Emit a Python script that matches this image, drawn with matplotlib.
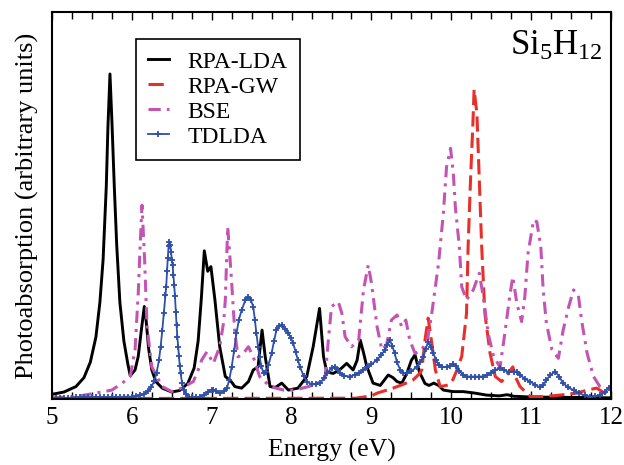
import matplotlib
matplotlib.use("Agg")
import matplotlib.pyplot as plt

plt.rcParams['font.family'] = ['Liberation Serif', 'DejaVu Serif']
plt.rcParams['mathtext.fontset'] = 'custom'
plt.rcParams['mathtext.rm'] = 'Liberation Serif'
plt.rcParams['mathtext.it'] = 'Liberation Serif:italic'

# RPA-LDA (black)
e_lda = [5.00, 5.15, 5.30, 5.40, 5.48, 5.55, 5.60, 5.64, 5.68, 5.70, 5.726, 5.75, 5.78, 5.81,
         5.85, 5.90, 5.95, 5.98, 6.04, 6.08, 6.12, 6.156, 6.18, 6.21, 6.25, 6.30, 6.38, 6.50,
         6.60, 6.70, 6.78, 6.83, 6.87, 6.907, 6.95, 6.99, 7.04, 7.10, 7.17, 7.23, 7.29, 7.375,
         7.46, 7.52, 7.58, 7.63, 7.67, 7.73, 7.80, 7.876, 7.96, 8.08, 8.19, 8.27, 8.35, 8.40,
         8.44, 8.52, 8.60, 8.69, 8.77, 8.82, 8.86, 8.90, 8.94, 9.02, 9.11, 9.21, 9.27, 9.32,
         9.38, 9.44, 9.50, 9.545, 9.60, 9.67, 9.72, 9.78, 9.84, 9.90, 10.02, 10.15, 10.30,
         10.44, 10.60, 10.70, 10.78, 11.00, 11.50, 12.00]
y_lda = [1.2, 1.8, 3.2, 5.5, 9.5, 16, 25, 36, 55, 70, 84, 72, 55, 40,
         25, 15, 9.0, 6.0, 7.5, 11, 18, 23.9, 20, 13, 7.5, 4.5, 2.8, 1.8,
         2.2, 4, 8, 15, 26, 38.3, 33, 34.2, 25.6, 13.5, 5.8, 4.9, 3.2, 2.8,
         4.5, 7.5, 8.3, 17.8, 10.9, 3.2, 3.0, 4.1, 2.3, 2.8, 5.8, 13.5, 23.4, 10.9,
         7.0, 6.6, 7.5, 9.2, 7.5, 10, 15.2, 12, 8.5, 4.1, 3.5, 6.2, 5.5, 4.5,
         4.1, 6.5, 10, 11.4, 7.0, 4.0, 3.5, 4.1, 3.5, 2.3, 1.9, 1.9, 1.5,
         1.0, 0.8, 1.1, 0.7, 0.5, 0.4, 0.3]

# RPA-GW (red dashed)
e_gw = [5.00, 8.80, 9.00, 9.07, 9.27, 9.40, 9.52, 9.60, 9.63, 9.67, 9.71, 9.755, 9.80, 9.86,
        9.96, 10.02, 10.07, 10.13, 10.19, 10.21, 10.24, 10.27, 10.285, 10.32, 10.35, 10.38,
        10.42, 10.485, 10.55, 10.63, 10.71, 10.77, 10.80, 10.86, 10.99, 11.15, 11.36, 11.57,
        11.70, 11.82, 11.92, 12.00]
y_gw = [0.1, 0.2, 0.8, 1.5, 2.8, 3.8, 4.9, 6.5, 7.5, 15.2, 20.9, 14.4, 7.5, 3.2,
        3.6, 5.0, 7.5, 11, 22.1, 39.4, 56.6, 71.2, 80.0, 73.8, 56.6, 39.4,
        22.1, 11.8, 5.8, 4.5, 6.6, 8.3, 5.8, 3.2, 0.6, 0.6, 1.0, 1.5,
        2.3, 2.8, 1.5, 1.0]

# BSE (magenta dash-dot)
e_bse = [5.00, 5.30, 5.54, 5.75, 5.88, 5.98, 6.04, 6.08, 6.105, 6.127, 6.16, 6.19, 6.25, 6.38,
         6.50, 6.62, 6.77, 6.83, 6.875, 6.94, 7.02, 7.10, 7.15, 7.17, 7.20, 7.23, 7.25, 7.29,
         7.33, 7.40, 7.46, 7.52, 7.60, 7.73, 7.90, 8.04, 8.21, 8.38, 8.42, 8.46, 8.50, 8.585,
         8.63, 8.67, 8.75, 8.84, 8.90, 8.96, 9.00, 9.07, 9.13, 9.19, 9.25, 9.32, 9.38, 9.43,
         9.48, 9.545, 9.62, 9.70, 9.755, 9.84, 9.90, 9.94, 9.99, 10.025, 10.05, 10.10, 10.13,
         10.19, 10.275, 10.35, 10.40, 10.46, 10.53, 10.61, 10.67, 10.73, 10.77, 10.82, 10.88,
         10.92, 10.96, 11.03, 11.07, 11.12, 11.15, 11.19, 11.26, 11.34, 11.40, 11.47, 11.53,
         11.59, 11.63, 11.70, 11.78, 11.86, 11.95, 12.00]
y_bse = [0.3, 0.6, 1.5, 2.3, 4.1, 5.8, 12.7, 27.3, 40.2, 50.1, 35.9, 18.7, 8.3, 3.2,
         1.9, 2.8, 4.5, 7.5, 10.1, 12.2, 9.2, 13.5, 20, 25.6, 44.5, 36, 29.9, 17.0,
         10.9, 11.9, 13.5, 10.9, 5.8, 3.2, 2.3, 2.3, 3.2, 4.5, 5.5, 15.2, 23.9, 25.1,
         22.1, 16.1, 13.5, 15.2, 28.2, 34.6, 29.9, 18.7, 12.7, 14, 20.4, 21.7, 18.7, 20.4,
         15.2, 11.8, 12.5, 15, 22.1, 35.1, 48.0, 60.0, 64.8, 58.3, 49.7, 39.4, 29.0,
         25.6, 28.2, 32.5, 26.4, 17.0, 10.9, 8.3, 17.0, 26.4, 31.6, 24.7, 20.0,
         26.4, 37.6, 46.3, 45.8, 39.4, 28.2, 19.6, 12.7, 10.5, 17.8, 23.9, 28.2,
         26.9, 20.4, 11.8, 5.8, 3.2, 1.5, 1.0]

# TDLDA (blue with markers)
e_td = [5.00, 5.05, 5.10, 5.15, 5.20, 5.25, 5.30, 5.35, 5.40, 5.45, 5.50, 5.55, 5.60, 5.65,
        5.70, 5.75, 5.80, 5.85, 5.90, 5.95, 6.00, 6.05, 6.10, 6.15, 6.20, 6.24, 6.28, 6.31,
        6.34, 6.36, 6.38, 6.40, 6.42, 6.43, 6.44, 6.45, 6.46, 6.47, 6.48, 6.49, 6.50, 6.51,
        6.52, 6.53, 6.54, 6.55, 6.56, 6.57, 6.58, 6.59, 6.60, 6.61, 6.63, 6.65, 6.68, 6.71,
        6.75, 6.80, 6.85, 6.90, 6.95, 7.00, 7.02, 7.05, 7.10, 7.15, 7.19, 7.22, 7.25, 7.28,
        7.31, 7.34, 7.375, 7.42, 7.46, 7.49, 7.52, 7.54, 7.56, 7.58, 7.60, 7.62, 7.65, 7.68,
        7.71, 7.75, 7.78, 7.81, 7.84, 7.876, 7.92, 7.96, 7.99, 8.02, 8.05, 8.08, 8.105, 8.15,
        8.19, 8.25, 8.30, 8.36, 8.40, 8.44, 8.50, 8.54, 8.58, 8.61, 8.66, 8.73, 8.80, 8.85,
        8.90, 8.95, 9.00, 9.07, 9.12, 9.17, 9.20, 9.23, 9.26, 9.29, 9.32, 9.36, 9.40, 9.44,
        9.50, 9.57, 9.61, 9.65, 9.68, 9.71, 9.74, 9.775, 9.81, 9.84, 9.88, 9.94, 9.98, 10.02,
        10.06, 10.10, 10.15, 10.19, 10.25, 10.30, 10.35, 10.40, 10.45, 10.50, 10.55, 10.61,
        10.66, 10.72, 10.78, 10.82, 10.86, 10.92, 10.99, 11.05, 11.11, 11.15, 11.19, 11.24,
        11.30, 11.35, 11.40, 11.46, 11.53, 11.60, 11.67, 11.74, 11.80, 11.86, 11.92, 11.97,
        12.00]
y_td = [0.3, 0.3, 0.3, 0.3, 0.3, 0.3, 0.4, 0.4, 0.4, 0.4, 0.4, 0.4, 0.5, 0.5,
        0.5, 0.5, 0.5, 0.5, 0.6, 0.6, 0.6, 0.7, 0.9, 1.3, 2.0, 3.0, 4.6, 6.8,
        10.1, 13.5, 17.5, 22.1, 27, 29.0, 33, 36.5, 39.5, 40.6, 39.8, 38.1, 36, 34.5,
        32.0, 29.5, 26.5, 22.5, 19.0, 16, 13.5, 11.0, 8.5, 6.6, 4.0, 2.3, 1.2, 0.6,
        0.4, 0.4, 0.6, 1.0, 1.8, 2.4, 2.4, 2.0, 1.5, 2.0, 2.8, 5.0, 8.3, 12.5,
        17.0, 20.5, 23.0, 25.5, 26.4, 25.5, 23.9, 20.5, 17.0, 13.5, 10.9, 8.5, 6.6, 7.0,
        8.8, 11.8, 15, 17.8, 18.8, 19.1, 18.2, 17.0, 15.8, 14.4, 12.2, 10.0, 8.3, 6.0,
        4.5, 3.8, 3.8, 4.1, 5.3, 6.6, 8.0, 8.3, 7.4, 6.6, 6.0, 5.8, 6.3, 6.8,
        7.5, 8.3, 9.0, 10.1, 11.3, 12.7, 14.0, 15.2, 13.8, 11.8, 9.5, 7.5, 6.8, 6.6,
        7.2, 8.3, 9.5, 10.9, 13.0, 14.8, 13.5, 11.8, 10.0, 8.8, 8.3, 8.3, 8.6, 9.0,
        8.4, 7.2, 6.3, 5.8, 5.8, 5.8, 5.8, 5.8, 6.2, 6.8, 7.5, 7.9,
        7.4, 7.0, 7.1, 7.1, 6.2, 5.2, 4.5, 3.6, 3.0, 3.5, 4.9, 6.2,
        7.1, 5.8, 4.1, 3.0, 2.3, 1.5, 0.9, 0.6, 0.7, 1.0, 1.8, 2.8,
        3.2]

fig = plt.figure(figsize=(6.24, 4.65), dpi=100)
ax = fig.add_axes([0.0833, 0.142, 0.896, 0.832])

ax.plot(e_lda, y_lda, color='black', lw=2.1, label='RPA-LDA')
ax.plot(e_gw, y_gw, color='#e8302a', lw=2.2, dashes=(5, 2), label='RPA-GW')
ax.plot(e_bse, y_bse, color='#c454b4', lw=2.2, dashes=(4, 2, 1, 2), label='BSE')
ax.plot(e_td, y_td, color='#2f4fa8', lw=1.3, marker='+', ms=4.5, mew=1.3, label='TDLDA')

ax.set_xlim(5, 12)
ax.set_ylim(0, 100)
ax.set_xticks(range(5, 13))
ax.set_xticks([5 + 0.25 * i for i in range(29)], minor=True)
ax.set_yticks([])
ax.tick_params(axis='x', which='both', direction='in', top=True, labelsize=18)
ax.tick_params(axis='x', which='major', length=6, width=1, pad=6)
ax.tick_params(axis='x', which='minor', length=5, width=1)
for s in ax.spines.values():
    s.set_linewidth(1.5)

ax.set_xlabel('Energy (eV)', fontsize=18.5, labelpad=7)
ax.set_ylabel('Photoabsorption (arbitrary units)', fontsize=19, labelpad=9)

ax.text(0.985, 0.955, 'Si$_5$H$_{12}$', transform=ax.transAxes, ha='right', va='top', fontsize=25)

leg = ax.legend(loc='upper left', bbox_to_anchor=(0.150, 0.930), borderaxespad=0,
                fontsize=17, handlelength=0.9, handletextpad=0.8, labelspacing=0.15,
                fancybox=False, edgecolor='black', framealpha=1, borderpad=0.5)
leg.get_frame().set_linewidth(1.2)

fig.savefig('out.png', dpi=100)
